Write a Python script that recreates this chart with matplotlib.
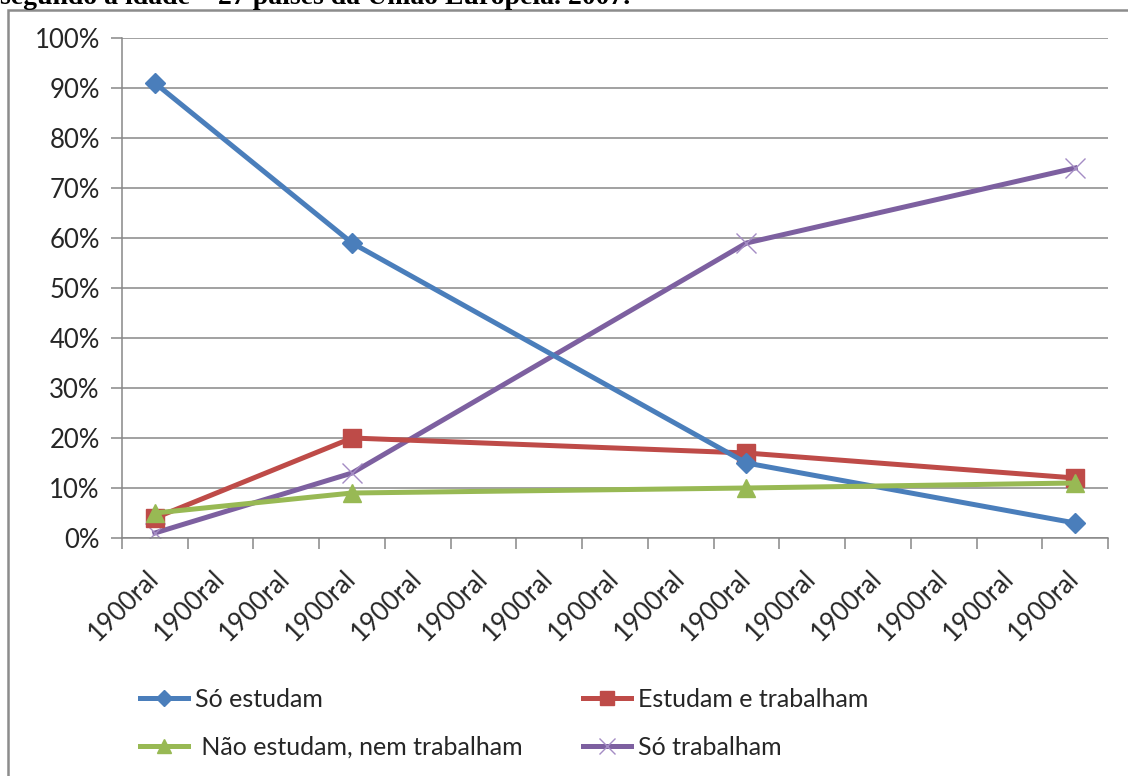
import matplotlib
matplotlib.use("Agg")
import matplotlib.pyplot as plt
from matplotlib.patches import Rectangle
from matplotlib.ticker import FixedLocator, PercentFormatter
from matplotlib.transforms import ScaledTranslation

plt.rcParams['font.family'] = ['Lato', 'DejaVu Sans']

# Age-group categories on the horizontal axis (labels as exported)
categories = ["1900ral"] * 15
# Category positions that carry observations
obs_idx = [0, 3, 9, 14]

so_estudam = [0.91, 0.59, 0.15, 0.03]
estudam_trabalham = [0.04, 0.20, 0.17, 0.12]
nao_estudam_nem_trabalham = [0.05, 0.09, 0.10, 0.11]
so_trabalham = [0.01, 0.13, 0.59, 0.74]

series_names = ["Só estudam", "Estudam e trabalham",
                " Não estudam, nem trabalham", "Só trabalham"]

W, H = 1128, 776
fig = plt.figure(figsize=(W / 100, H / 100), dpi=100)

ax = fig.add_axes([122 / W, 1 - 538 / H, (1108 - 122) / W, 500 / H])

grid_c = "#878787"
text_c = "#262626"
blue, red, green, purple = "#4A7EBB", "#BE4B48", "#98B954", "#7D60A0"

l1, = ax.plot(obs_idx, so_estudam, color=blue, lw=3.6, marker="D",
              ms=10, mfc=blue, mec=blue, zorder=4)
l2, = ax.plot(obs_idx, estudam_trabalham, color=red, lw=3.6, marker="s",
              ms=13, mfc=red, mec=red, zorder=3)
l3, = ax.plot(obs_idx, nao_estudam_nem_trabalham, color=green, lw=3.6,
              marker="^", ms=13, mfc=green, mec=green, zorder=5)
l4, = ax.plot(obs_idx, so_trabalham, color=purple, lw=3.6, marker="x",
              ms=15, mew=1.0, mec="#A48CC4", zorder=2)

ax.set_xlim(-0.5, 14.5)
ax.set_ylim(0, 1.0)

ax.yaxis.set_major_locator(FixedLocator([i / 10 for i in range(11)]))
ax.yaxis.set_major_formatter(PercentFormatter(1.0, decimals=0))
ax.grid(axis="y", color=grid_c, lw=1.1, zorder=0)

ax.xaxis.set_major_locator(FixedLocator([i - 0.5 for i in range(16)]))
ax.xaxis.set_minor_locator(FixedLocator(list(range(len(categories)))))
ax.set_xticklabels([], minor=False)
ax.set_xticklabels(categories, minor=True, rotation=45, ha="right",
                   va="center", rotation_mode="anchor", fontsize=18.5,
                   color=text_c)
shift = ScaledTranslation(5 / 100, 0, fig.dpi_scale_trans)
for lab in ax.get_xticklabels(minor=True):
    lab.set_transform(lab.get_transform() + shift)
ax.tick_params(axis="x", which="minor", length=0, pad=26)
ax.tick_params(axis="x", which="major", length=8, width=1.1, color=grid_c)
ax.tick_params(axis="y", length=8, width=1.1, color=grid_c,
               labelsize=18.5, labelcolor=text_c, pad=8)

for s in ["top", "right"]:
    ax.spines[s].set_visible(False)
for s in ["left", "bottom"]:
    ax.spines[s].set_color(grid_c)
    ax.spines[s].set_linewidth(1.1)

# Outer chart frame
fig.patches.append(Rectangle((8 / W, -0.1), 1.2, 1 - 10 / H + 0.1,
                             transform=fig.transFigure, fill=False,
                             edgecolor="#8c8c8c", lw=1.8, zorder=0))

# Heading of the table above the chart
fig.text(0, 1 - 4 / H,
         "segundo a idade – 27 países da União Européia. 2007.",
         family="Liberation Serif", weight="bold", fontsize=20,
         va="baseline", ha="left")

legend_kw = dict(loc="upper left", frameon=False, fontsize=18,
                 handlelength=1.9, handletextpad=0.3, labelspacing=1.0,
                 borderpad=0, borderaxespad=0, markerscale=0.8,
                 labelcolor=text_c)
leg1 = fig.legend([l1, l3], [series_names[0], series_names[2]],
                  bbox_to_anchor=(140 / W, 1 - 688 / H), **legend_kw)
leg2 = fig.legend([l2, l4], [series_names[1], series_names[3]],
                  bbox_to_anchor=(583 / W, 1 - 688 / H), **legend_kw)

fig.savefig("out.png", dpi=100)
